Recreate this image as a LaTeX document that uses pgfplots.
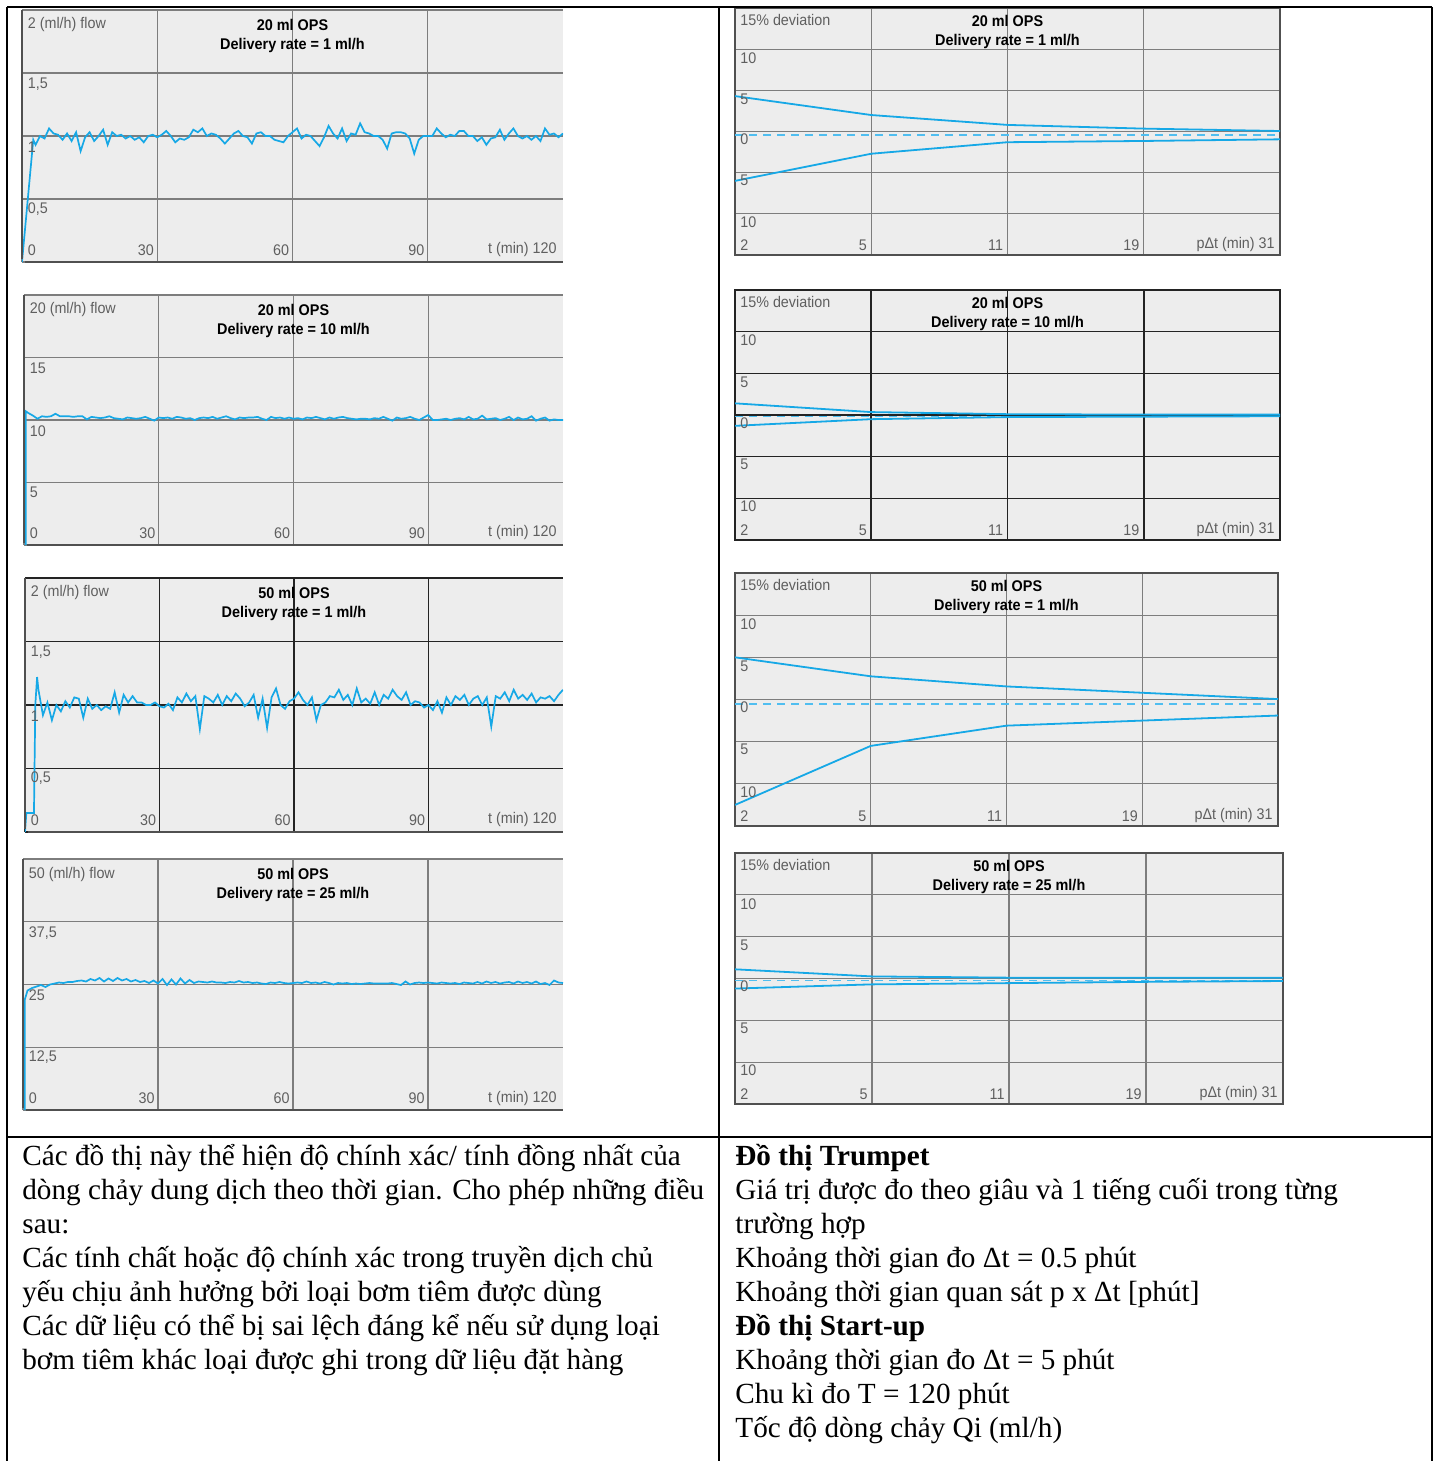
\documentclass[border=0pt]{standalone}
\usepackage{fontspec}
\setmainfont{Liberation Serif}
\newfontfamily\cf[FakeStretch=0.93]{Liberation Sans}
\usepackage{pgfplots}
\pgfplotsset{compat=1.18}
\definecolor{bgc}{RGB}{237,237,237}
\definecolor{curve}{RGB}{22,168,230}
\definecolor{dashc}{RGB}{80,190,240}
\definecolor{gridg}{RGB}{125,125,125}
\definecolor{gridd}{RGB}{35,35,35}
\definecolor{edge}{RGB}{80,80,80}
\definecolor{labc}{RGB}{95,95,95}
\tikzset{lab/.style={font=\cf\fontsize{7.7}{8}\selectfont, text=labc, inner sep=0pt},
 ttl/.style={font=\cf\bfseries\fontsize{7.75}{8}\selectfont, text=black, inner sep=0pt},
 body/.style={anchor=base west, inner sep=0pt, font=\fontsize{14.6}{16}\selectfont}}
\pgfplotsset{
 common/.style={scale only axis, anchor=south west, axis background/.style={fill=bgc},
   xticklabels={}, yticklabels={}, major tick length=0pt, tick style={draw=none},
   grid=major, clip=true},
 leftchart/.style={common, xmin=0, xmax=120, ymin=0, xtick={0,30,60,90}, axis line style={draw=none}},
 rightchart/.style={common, xmin=0, xmax=4, ymin=-15, ymax=15, xtick={0,1,2,3,4}, ytick={-15,-10,-5,0,5,10,15}},
 leftlab/.style n args={6}{extra description/.code={
   \draw[edge,line width=0.9pt] (axis description cs:0,1)--(axis description cs:0,0.01);
   \draw[edge,line width=0.9pt] (axis description cs:0.005,0)--(axis description cs:1,0);
   \node[lab,anchor=west,xshift=2.75pt,yshift=-7.5pt] at (axis description cs:0,1) {#1};
   \node[lab,anchor=west,xshift=2.75pt,yshift=-5.5pt] at (axis description cs:0,0.75) {#2};
   \node[lab,anchor=west,xshift=2.75pt,yshift=-5.5pt] at (axis description cs:0,0.5) {#3};
   \node[lab,anchor=west,xshift=2.75pt,yshift=-5pt] at (axis description cs:0,0.25) {#4};
   \node[lab,anchor=west,xshift=2.75pt,yshift=6pt] at (axis description cs:0,0) {0};
   \node[lab,anchor=east,xshift=-1.5pt,yshift=6pt] at (axis description cs:0.25,0) {30};
   \node[lab,anchor=east,xshift=-1.5pt,yshift=6pt] at (axis description cs:0.5,0) {60};
   \node[lab,anchor=east,xshift=-1.5pt,yshift=6pt] at (axis description cs:0.75,0) {90};
   \node[lab,anchor=east,xshift=-3pt,yshift=6pt] at (axis description cs:1,0) {t (min) 120};
   \node[ttl,yshift=-7.7pt] at (axis description cs:0.5,1) {#5};
   \node[ttl,yshift=-17.8pt] at (axis description cs:0.5,1) {#6};
 }},
 rightlab/.style n args={2}{extra description/.code={
   \node[lab,anchor=west,xshift=2.5pt,yshift=-6pt] at (axis description cs:0,1) {15\% deviation};
   \node[lab,anchor=west,xshift=2.5pt,yshift=-4.5pt] at (axis description cs:0,0.8333) {10};
   \node[lab,anchor=west,xshift=2.5pt,yshift=-4.5pt] at (axis description cs:0,0.6667) {5};
   \node[lab,anchor=west,xshift=2.5pt,yshift=-4pt] at (axis description cs:0,0.5) {0};
   \node[lab,anchor=west,xshift=2.5pt,yshift=-4pt] at (axis description cs:0,0.3333) {5};
   \node[lab,anchor=west,xshift=2.5pt,yshift=-4pt] at (axis description cs:0,0.1667) {10};
   \node[lab,anchor=west,xshift=2.5pt,yshift=5pt] at (axis description cs:0,0) {2};
   \node[lab,anchor=east,xshift=-2pt,yshift=5pt] at (axis description cs:0.25,0) {5};
   \node[lab,anchor=east,xshift=-2pt,yshift=5pt] at (axis description cs:0.5,0) {11};
   \node[lab,anchor=east,xshift=-2pt,yshift=5pt] at (axis description cs:0.75,0) {19};
   \node[lab,anchor=east,xshift=-2.5pt,yshift=5pt] at (axis description cs:1,0) {pΔt (min) 31};
   \node[ttl,yshift=-6.3pt] at (axis description cs:0.5,1) {#1};
   \node[ttl,yshift=-16.6pt] at (axis description cs:0.5,1) {#2};
 }},
}
\begin{document}
\begin{tikzpicture}
\useasboundingbox (0,0) rectangle (718.5pt,-730.5pt);
% ---------- left charts ----------
\begin{axis}[leftchart, at={(11pt,-131pt)}, width=270.5pt, height=126pt, ymax=2, ytick={0,0.5,1,1.5,2},
  grid style={draw=gridg, line width=0.55pt},
  leftlab={2 (ml/h) flow}{1,5}{1}{0,5}{20 ml OPS}{Delivery rate = 1 ml/h}]
\addplot[curve, line width=0.85pt] coordinates {(0,0)(2.5,0.97)(3,0.93)(4,1.0)(5,0.98)(6,1.06)(7,1.02)(8,1.01)(9,0.97)(10,1.02)(11,0.96)(12,1.03)(13,0.88)(14,0.99)(15,1.03)(16,0.96)(17,1.0)(18,1.05)(19,0.93)(20,1.03)(21,1.0)(22,1.01)(23,0.98)(24,1.0)(25,0.97)(26,0.99)(27,0.95)(28,1.0)(29,1.01)(30,0.99)(31,1.01)(32,1.04)(33,1.0)(34,0.95)(35,0.98)(36,0.97)(37,0.99)(38,1.05)(39,1.03)(40,1.06)(41,1.0)(42,1.02)(43,1.01)(44,0.98)(45,0.94)(46,0.98)(47,1.02)(48,1.04)(49,1.0)(50,0.99)(51,0.94)(52,1.02)(53,1.03)(54,1.0)(55,1.0)(56,0.97)(57,0.96)(58,0.95)(59,1.0)(60,1.03)(61,1.06)(62,0.98)(63,1.01)(64,1.0)(65,0.96)(66,0.92)(67,0.99)(68,1.08)(69,1.02)(70,0.98)(71,1.06)(72,0.96)(73,1.02)(74,1.01)(75,1.1)(76,1.03)(77,1.02)(78,1.0)(79,1.0)(80,0.97)(81,0.9)(82,1.02)(83,1.03)(84,1.03)(85,1.02)(86,0.98)(87,0.86)(88,0.97)(89,1.0)(90,1.0)(91,1.0)(92,1.06)(93,1.02)(94,0.99)(95,1.01)(96,1.0)(97,1.04)(98,1.04)(99,1.0)(100,1.0)(101,0.96)(102,0.99)(103,0.93)(104,0.98)(105,0.99)(106,1.05)(107,0.97)(108,1.02)(109,1.06)(110,1.0)(111,0.98)(112,1.0)(113,0.97)(114,1.0)(115,0.96)(116,1.06)(117,1.01)(118,1.02)(119,0.99)(120,1.02)};
\end{axis}
\begin{axis}[leftchart, at={(12pt,-272.5pt)}, width=269.5pt, height=125pt, ymax=20, ytick={0,5,10,15,20},
  grid style={draw=gridg, line width=0.55pt},
  leftlab={20 (ml/h) flow}{15}{10}{5}{20 ml OPS}{Delivery rate = 10 ml/h}]
\addplot[curve, line width=0.85pt] coordinates {(0.4,0)(0.4,10.7)(1,10.55)(2,10.35)(3,10.1)(4,10.3)(5,10.25)(6,10.3)(7,10.5)(8,10.3)(9,10.3)(10,10.3)(11,10.25)(12,10.3)(13,10.3)(14,10.05)(15,10.25)(16,10.2)(17,10.15)(18,10.2)(19,10.3)(20,10.15)(21,10.1)(22,10.05)(23,10.2)(24,10.15)(25,10.1)(26,10.15)(27,10.25)(28,10.1)(29,9.95)(30,10.2)(31,10.15)(32,10.2)(33,10.1)(34,10.25)(35,10.2)(36,10.1)(37,10.15)(38,10.0)(39,10.15)(40,10.2)(41,10.15)(42,10.25)(43,10.1)(44,10.2)(45,10.3)(46,10.15)(47,10.05)(48,10.2)(49,10.15)(50,10.2)(51,10.2)(52,10.25)(53,10.1)(54,10.0)(55,10.25)(56,10.15)(57,10.2)(58,10.1)(59,10.2)(60,10.1)(61,10.15)(62,10.05)(63,10.2)(64,10.15)(65,10.25)(66,10.15)(67,10.05)(68,10.2)(69,10.1)(70,10.2)(71,10.25)(72,10.15)(73,10.1)(74,10.05)(75,10.1)(76,10.1)(77,10.05)(78,10.15)(79,10.1)(80,10.25)(81,10.1)(82,9.95)(83,10.2)(84,10.1)(85,10.15)(86,10.25)(87,10.1)(88,10.0)(89,10.2)(90,10.4)(91,10.0)(92,10.0)(93,10.05)(94,10.1)(95,10.0)(96,10.1)(97,10.15)(98,10.05)(99,10.25)(100,10.05)(101,10.1)(102,10.35)(103,10.05)(104,10.1)(105,10.15)(106,10.0)(107,10.1)(108,10.25)(109,10.0)(110,10.2)(111,10.05)(112,10.1)(113,10.3)(114,9.95)(115,10.1)(116,10.2)(117,9.95)(118,10.05)(119,10.0)(120,10.0)};
\end{axis}
\begin{axis}[leftchart, at={(12.5pt,-416pt)}, width=269pt, height=127pt, ymax=2, ytick={0,0.5,1,1.5,2},
  grid style={draw=gridd, line width=0.8pt},
  leftlab={2 (ml/h) flow}{1,5}{1}{0,5}{50 ml OPS}{Delivery rate = 1 ml/h}]
\addplot[curve, line width=0.85pt] coordinates {(0,0)(0.3,0.15)(2,0.15)(2.3,1.0)(2.7,1.22)(3,1.12)(4,0.92)(5,1.02)(6,0.88)(7,1.0)(8,0.95)(9,1.03)(10,0.98)(11,1.06)(12,1.05)(13,0.9)(14,1.05)(15,0.97)(16,1.0)(17,0.96)(18,0.99)(19,0.97)(20,1.1)(21,0.94)(22,1.08)(23,1.02)(24,1.07)(25,1.02)(26,1.02)(27,1.0)(28,1.0)(29,1.02)(30,0.99)(31,0.98)(32,1.01)(33,0.96)(34,1.06)(35,1.02)(36,1.09)(37,1.03)(38,1.07)(39,0.81)(40,1.07)(41,1.05)(42,1.02)(43,1.08)(44,1.0)(45,1.07)(46,1.03)(47,1.09)(48,1.05)(49,0.99)(50,1.02)(51,1.08)(52,0.9)(53,1.05)(54,0.82)(55,1.06)(56,1.13)(57,1.0)(58,0.97)(59,1.03)(60,1.05)(61,1.1)(62,1.04)(63,1.0)(64,1.06)(65,0.88)(66,1.0)(67,1.02)(68,1.07)(69,1.06)(70,1.12)(71,1.04)(72,1.08)(73,1.0)(74,1.13)(75,1.02)(76,1.05)(77,1.01)(78,1.1)(79,1.0)(80,1.08)(81,1.05)(82,1.12)(83,1.07)(84,1.04)(85,1.1)(86,1.0)(87,1.03)(88,1.02)(89,0.98)(90,1.0)(91,0.96)(92,1.03)(93,0.94)(94,1.06)(95,1.0)(96,1.07)(97,1.04)(98,1.08)(99,1.0)(100,1.05)(101,1.07)(102,1.0)(103,1.06)(104,0.83)(105,1.07)(106,1.05)(107,1.1)(108,1.03)(109,1.12)(110,1.05)(111,1.08)(112,1.04)(113,1.09)(114,1.02)(115,1.06)(116,1.05)(117,1.07)(118,1.03)(119,1.08)(120,1.12)};
\end{axis}
\begin{axis}[leftchart, at={(11.5pt,-555pt)}, width=270pt, height=125.5pt, ymax=50, ytick={0,12.5,25,37.5,50},
  grid style={draw=gridg, line width=0.55pt},
  leftlab={50 (ml/h) flow}{37,5}{25}{12,5}{50 ml OPS}{Delivery rate = 25 ml/h}]
\addplot[curve, line width=0.85pt] coordinates {(0.4,0)(0.4,22)(1,23.8)(2,24.3)(3,24.6)(4,24.9)(5,24.5)(6,25.0)(7,25.2)(8,25.4)(9,25.3)(10,25.5)(11,25.5)(12,25.7)(13,25.8)(14,25.6)(15,26.1)(16,25.8)(17,26.3)(18,25.6)(19,26.2)(20,25.7)(21,26.3)(22,25.8)(23,26.1)(24,25.6)(25,25.9)(26,25.5)(27,25.7)(28,25.3)(29,25.8)(30,25.2)(31,26.1)(32,24.9)(33,26.0)(34,25.0)(35,26.2)(36,25.2)(37,25.9)(38,25.3)(39,25.6)(40,25.5)(41,25.4)(42,25.6)(43,25.4)(44,25.4)(45,25.3)(46,25.5)(47,25.4)(48,25.7)(49,25.4)(50,25.5)(51,25.3)(52,25.4)(53,25.2)(54,25.1)(55,25.4)(56,25.3)(57,25.5)(58,25.3)(59,25.2)(60,25.3)(61,25.4)(62,25.3)(63,25.6)(64,25.3)(65,25.4)(66,25.2)(67,25.5)(68,25.3)(69,25.0)(70,25.3)(71,25.2)(72,25.3)(73,25.1)(74,25.2)(75,25.1)(76,25.2)(77,25.3)(78,25.2)(79,25.2)(80,25.2)(81,25.2)(82,25.3)(83,25.1)(84,24.9)(85,25.6)(86,25.0)(87,25.3)(88,25.4)(89,25.3)(90,25.4)(91,25.3)(92,25.2)(93,25.4)(94,25.3)(95,25.2)(96,25.3)(97,25.1)(98,25.4)(99,25.3)(100,25.2)(101,25.5)(102,25.2)(103,25.6)(104,25.3)(105,25.5)(106,25.2)(107,25.4)(108,25.5)(109,25.2)(110,25.6)(111,25.3)(112,25.5)(113,25.2)(114,25.6)(115,25.1)(116,25.3)(117,24.9)(118,25.8)(119,25.4)(120,25.3)};
\end{axis}
% ---------- right charts ----------
\begin{axis}[rightchart, at={(367.5pt,-127.5pt)}, width=272.5pt, height=123.5pt,
  grid style={draw=gridg, line width=0.55pt}, axis line style={draw=edge, line width=0.8pt},
  rightlab={20 ml OPS}{Delivery rate = 1 ml/h}]
\addplot[dashc, line width=0.8pt, dash pattern=on 4pt off 3pt] coordinates {(0,-0.4)(4,-0.4)};
\addplot[curve, line width=0.9pt] coordinates {(0,4.3)(1,2.0)(2,0.8)(3,0.35)(4,0.06)};
\addplot[curve, line width=0.9pt] coordinates {(0,-6.0)(1,-2.7)(2,-1.3)(3,-1.15)(4,-0.95)};
\end{axis}
\begin{axis}[rightchart, at={(367.5pt,-270pt)}, width=272.5pt, height=125pt,
  grid style={draw=gridd, line width=0.8pt}, axis line style={draw=gridd, line width=0.9pt},
  rightlab={20 ml OPS}{Delivery rate = 10 ml/h}]
\addplot[dashc, line width=0.8pt, dash pattern=on 4pt off 3pt] coordinates {(0,-0.2)(4,-0.2)};
\addplot[curve, line width=0.9pt] coordinates {(0,1.4)(1,0.35)(2,0.1)(3,0.05)(4,0.05)};
\addplot[curve, line width=0.9pt] coordinates {(0,-1.3)(1,-0.5)(2,-0.25)(3,-0.2)(4,-0.15)};
\end{axis}
\begin{axis}[rightchart, at={(367.5pt,-413pt)}, width=271.5pt, height=126.5pt,
  grid style={draw=gridg, line width=0.55pt}, axis line style={draw=edge, line width=0.8pt},
  rightlab={50 ml OPS}{Delivery rate = 1 ml/h}]
\addplot[dashc, line width=0.8pt, dash pattern=on 4pt off 3pt] coordinates {(0,-0.5)(4,-0.5)};
\addplot[curve, line width=0.9pt] coordinates {(0,5.0)(1,2.75)(2,1.55)(3,0.8)(4,0.05)};
\addplot[curve, line width=0.9pt] coordinates {(0,-12.5)(1,-5.5)(2,-3.1)(3,-2.5)(4,-1.9)};
\end{axis}
\begin{axis}[rightchart, at={(367.5pt,-552pt)}, width=274pt, height=125.5pt,
  grid style={draw=gridg, line width=0.55pt}, axis line style={draw=edge, line width=0.8pt},
  rightlab={50 ml OPS}{Delivery rate = 25 ml/h}]
\addplot[dashc, line width=0.8pt, dash pattern=on 4pt off 3pt] coordinates {(0,-0.25)(4,-0.25)};
\addplot[curve, line width=0.9pt] coordinates {(0,1.1)(1,0.25)(2,0.1)(3,0.1)(4,0.1)};
\addplot[curve, line width=0.9pt] coordinates {(0,-1.2)(1,-0.7)(2,-0.55)(3,-0.4)(4,-0.3)};
\end{axis}
% ---------- table rules ----------
\draw[line width=0.9pt] (3.5pt,-3.5pt) -- (716pt,-3.5pt);
\draw[line width=0.8pt] (3.5pt,-3.5pt) -- (3.5pt,-730.5pt);
\draw[line width=0.8pt] (716pt,-3.5pt) -- (716pt,-730.5pt);
\draw[line width=0.8pt] (359.5pt,-3.5pt) -- (359.5pt,-730.5pt);
\draw[line width=1.2pt] (3.5pt,-568.5pt) -- (716pt,-568.5pt);
% ---------- text ----------
\node[body] at (11pt,-582.5pt) {Các đồ thị này thể hiện độ chính xác/ tính đồng nhất của};
\node[body] at (11pt,-599.5pt) {dòng chảy dung dịch theo thời gian. Cho phép những điều};
\node[body] at (11pt,-616.5pt) {sau:};
\node[body] at (11pt,-633.5pt) {Các tính chất hoặc độ chính xác trong truyền dịch chủ};
\node[body] at (11pt,-650.5pt) {yếu chịu ảnh hưởng bởi loại bơm tiêm được dùng};
\node[body] at (11pt,-667.5pt) {Các dữ liệu có thể bị sai lệch đáng kể nếu sử dụng loại};
\node[body] at (11pt,-684.5pt) {bơm tiêm khác loại được ghi trong dữ liệu đặt hàng};
\node[body] at (367.5pt,-582.5pt) {\bfseries Đồ thị Trumpet};
\node[body] at (367.5pt,-599.5pt) {Giá trị được đo theo giâu và 1 tiếng cuối trong từng};
\node[body] at (367.5pt,-616.5pt) {trường hợp};
\node[body] at (367.5pt,-633.5pt) {Khoảng thời gian đo Δt = 0.5 phút};
\node[body] at (367.5pt,-650.5pt) {Khoảng thời gian quan sát p x Δt [phút]};
\node[body] at (367.5pt,-667.5pt) {\bfseries Đồ thị Start-up};
\node[body] at (367.5pt,-684.5pt) {Khoảng thời gian đo Δt = 5 phút};
\node[body] at (367.5pt,-701.5pt) {Chu kì đo T = 120 phút};
\node[body] at (367.5pt,-718.5pt) {Tốc độ dòng chảy Qi (ml/h)};
\end{tikzpicture}
\end{document}
